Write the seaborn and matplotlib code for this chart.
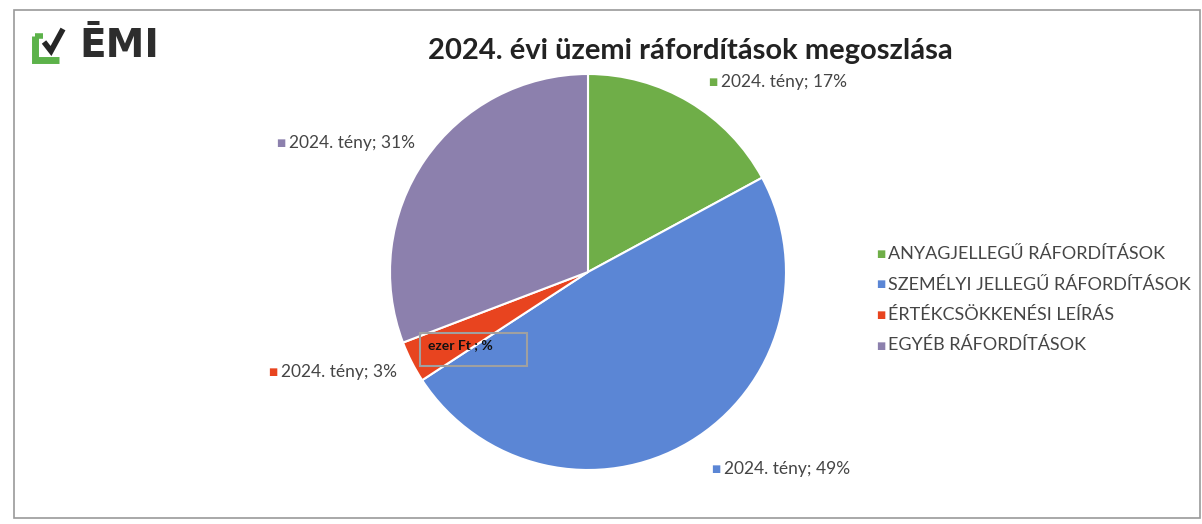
import numpy as np
import pandas as pd
import matplotlib
matplotlib.use("Agg")
import matplotlib.pyplot as plt
import matplotlib.patches as mpatches
import seaborn as sns

# Adatok (leolvasva az ábráról)
CATEGORIES = ["ANYAGJELLEGŰ RÁFORDÍTÁSOK", "SZEMÉLYI JELLEGŰ RÁFORDÍTÁSOK",
              "ÉRTÉKCSÖKKENÉSI LEÍRÁS", "EGYÉB RÁFORDÍTÁSOK"]
SHARES = [17.1, 48.7, 3.4, 30.8]
SERIES_NAME = "2024. tény"
COLORS = ["#6fae48", "#5b86d5", "#e8441f", "#8c80ad"]
TITLE = "2024. évi üzemi ráfordítások megoszlása"

# címkék helye pixelben (bal széle, közepe)
LABEL_POS = [(708, 82), (711, 469), (268, 372), (276, 143)]

W, H = 1202, 524

sns.set_theme(style="white")
plt.rcParams["font.family"] = ["Lato", "DejaVu Sans"]
TXT = "#454545"

df = pd.DataFrame({"kategoria": CATEGORIES, "arany": SHARES})
palette = sns.color_palette(COLORS)

fig = plt.figure(figsize=(W / 100, H / 100), dpi=100)
fig.patch.set_facecolor("white")


def fx(px):
    return px / W


def fy(py):
    return 1 - py / H


# kép kerete
fig.add_artist(mpatches.Rectangle((fx(14), fy(518)), fx(1186), (518 - 10) / H,
                                  transform=fig.transFigure, fill=False,
                                  edgecolor="#9a9a9a", linewidth=1.2))

# kördiagram
cx, cy, r = 588, 272, 198
ax = fig.add_axes([fx(cx - r), fy(cy + r), fx(2 * r), (2 * r) / H])
wedges, _ = ax.pie(df["arany"], colors=palette, startangle=90, counterclock=False,
                   wedgeprops=dict(edgecolor="white", linewidth=1.5))
ax.set_xlim(-1, 1)
ax.set_ylim(-1, 1)
ax.set_aspect("equal")
ax.axis("off")

# adatcímkék
for (px, py), val, col in zip(LABEL_POS, df["arany"], palette):
    fig.text(fx(px), fy(py), "■", color=col, fontsize=7, va="center", ha="left",
             family="DejaVu Sans")
    fig.text(fx(px + 13), fy(py), f"{SERIES_NAME}; {round(val):.0f}%", color=TXT,
             fontsize=12.5, va="center", ha="left")

# cím
fig.text(fx(690), fy(51), TITLE, fontsize=21, fontweight="bold", color="#222222",
         ha="center", va="center")

# jelmagyarázat
for i, (cat, col) in enumerate(zip(CATEGORIES, palette)):
    y = 254 + i * 30.5
    fig.text(fx(876), fy(y), "■", color=col, fontsize=7, va="center", ha="left",
             family="DejaVu Sans")
    fig.text(fx(888), fy(y), cat, color=TXT, fontsize=13, va="center", ha="left")

# "ezer Ft ; %" doboz
fig.add_artist(mpatches.Rectangle((fx(420), fy(366)), fx(107), (366 - 333) / H,
                                  transform=fig.transFigure, fill=False,
                                  edgecolor="#a0a0a0", linewidth=1.5))
fig.text(fx(428), fy(345), "ezer Ft ; %", fontsize=10, fontweight="bold",
         color="#111111", ha="left", va="center")

# logó
green = "#5cb24a"
fig.add_artist(plt.Line2D([fx(35), fx(35), fx(59)], [fy(36), fy(60), fy(60)],
                          transform=fig.transFigure, color=green, linewidth=5,
                          solid_capstyle="butt", solid_joinstyle="miter"))
fig.add_artist(plt.Line2D([fx(35), fx(43)], [fy(36), fy(36)],
                          transform=fig.transFigure, color=green, linewidth=4,
                          solid_capstyle="butt"))
fig.add_artist(plt.Line2D([fx(44), fx(51), fx(63)], [fy(42), fy(51), fy(29)],
                          transform=fig.transFigure, color="#262626", linewidth=4,
                          solid_capstyle="butt", solid_joinstyle="miter"))
fig.text(fx(79), fy(46), "ĒMI", fontsize=28, fontweight="bold", color="#2d2d2d",
         family="DejaVu Sans", ha="left", va="center")

fig.savefig("out.png", dpi=100, facecolor="white")
